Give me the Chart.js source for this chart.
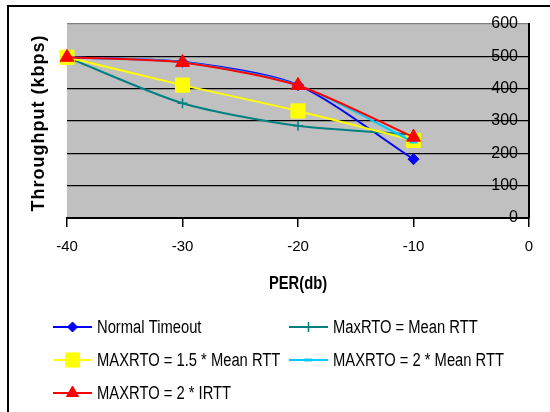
<!DOCTYPE html>
<html>
<head>
<meta charset="utf-8">
<script src="https://cdn.jsdelivr.net/npm/chart.js@4.4.1/dist/chart.umd.min.js"></script>
<style>
  html, body { margin: 0; padding: 0; background: #fff; overflow: hidden; }
  canvas { display: block; }
</style>
</head>
<body>
<canvas id="chart" width="550" height="412"></canvas>
<script>
// values
const perDb = [-40, -30, -20, -10]
const seriesNames = [
  "Normal Timeout",
  "MaxRTO = Mean RTT",
  "MAXRTO = 1.5 * Mean RTT",
  "MAXRTO = 2 * Mean RTT",
  "MAXRTO = 2 * IRTT"
]
const normalTimeout = [497, 483, 411, 182]
const maxRtoMeanRtt = [497, 355, 285, 258]
const maxRto15MeanRtt = [497, 411, 331, 240]
const maxRto2MeanRtt = [497, 482, 411, 235]
const maxRto2Irtt = [497, 481, 410, 250]
const xTitle = "PER(db)"
const yTitle = "Throughput (kbps)"

const SANS = "'Liberation Sans', Arial, sans-serif"
// no narrow face installed, so squeeze the regular one
const NARROW_X = 0.82

const toPoints = (values) => values.map((v, i) => ({ x: perDb[i], y: v }))

function series(label, values, color, style, radius, extra) {
  return Object.assign({
    label: label,
    data: toPoints(values),
    borderColor: color,
    backgroundColor: color,
    pointBackgroundColor: color,
    pointBorderColor: color,
    borderWidth: 2,
    pointStyle: style,
    pointRadius: radius,
    pointBorderWidth: 1,
    tension: 0.25,
    clip: false,
  }, extra)
}

const datasets = [
  series(seriesNames[0], normalTimeout, "#0000ff", "rectRot", 5.5, { order: 4, legendRadius: 5 }),
  series(seriesNames[1], maxRtoMeanRtt, "#008080", "cross", 5, { order: 3, pointBorderWidth: 1.5, legendRadius: 5 }),
  series(seriesNames[2], maxRto15MeanRtt, "#ffff00", "rect", 10, { order: 2, legendRadius: 10 }),
  series(seriesNames[3], maxRto2MeanRtt, "#00ccff", "line", 4, { order: 1, pointBorderWidth: 3, legendRadius: 4 }),
  series(seriesNames[4], maxRto2Irtt, "#ff0000", "triangle", 8, { order: 0, legendRadius: 7 }),
]

function narrowText(ctx, text, x, y, align, font) {
  ctx.save()
  ctx.font = font
  ctx.fillStyle = "#000"
  ctx.textBaseline = "middle"
  ctx.textAlign = align
  ctx.translate(x, y)
  ctx.scale(NARROW_X, 1)
  ctx.fillText(text, 0, 0)
  ctx.restore()
}

// grey plot area + outer frame
const backdrop = {
  id: "backdrop",
  beforeDraw(chart) {
    const { ctx, chartArea: a } = chart
    ctx.save()
    ctx.fillStyle = "#fff"
    ctx.fillRect(0, 0, chart.width, chart.height)
    ctx.fillStyle = "#c0c0c0"
    ctx.fillRect(a.left, a.top, a.right - a.left, a.bottom - a.top)
    ctx.strokeStyle = "#000"
    ctx.lineWidth = 2
    ctx.strokeRect(8, 6, chart.width + 20, chart.height + 20)
    ctx.restore()
  }
}

// axis titles: y title sits on the left although the axis is on the right
const axisTitles = {
  id: "axisTitles",
  afterDraw(chart) {
    const ctx = chart.ctx
    const a = chart.chartArea
    ctx.save()
    ctx.translate(39, 123)
    ctx.rotate(-Math.PI / 2)
    ctx.font = "bold 18px " + SANS
    ctx.letterSpacing = "1px"
    ctx.fillStyle = "#000"
    ctx.textAlign = "center"
    ctx.textBaseline = "middle"
    ctx.fillText(yTitle, 0, 0)
    ctx.restore()
    narrowText(ctx, xTitle, (a.left + a.right) / 2, 284, "center", "bold 18px " + SANS)
  }
}

// two column legend like the excel one
const legendGrid = {
  id: "legendGrid",
  afterDraw(chart) {
    const ctx = chart.ctx
    const cols = [53, 289]
    const rows = [327, 360, 393]
    chart.data.datasets.forEach((ds, i) => {
      const x = cols[i % 2]
      const y = rows[Math.floor(i / 2)]
      ctx.save()
      ctx.strokeStyle = ds.borderColor
      ctx.lineWidth = 2
      ctx.beginPath()
      ctx.moveTo(x, y)
      ctx.lineTo(x + 39, y)
      ctx.stroke()
      ctx.fillStyle = ds.pointBackgroundColor
      ctx.strokeStyle = ds.pointBorderColor
      ctx.lineWidth = ds.pointBorderWidth
      Chart.helpers.drawPoint(ctx, {
        pointStyle: ds.pointStyle,
        radius: ds.legendRadius,
        borderWidth: ds.pointBorderWidth,
        rotation: 0
      }, x + 19.5, y)
      ctx.restore()
      narrowText(ctx, ds.label, x + 44, y + 1, "left", "18px " + SANS)
    })
  }
}

new Chart(document.getElementById("chart"), {
  type: "line",
  data: { datasets: datasets },
  plugins: [backdrop, axisTitles, legendGrid],
  options: {
    responsive: false,
    animation: false,
    devicePixelRatio: 1,
    layout: { padding: { left: 67, top: 24, right: 21, bottom: 118 } },
    plugins: {
      legend: { display: false },
      tooltip: { enabled: false },
    },
    scales: {
      x: {
        type: "linear",
        position: "bottom",
        min: -40,
        max: 0,
        ticks: {
          stepSize: 10,
          padding: 11,
          color: "#000",
          font: { family: SANS, size: 15 },
        },
        grid: {
          drawOnChartArea: false,
          drawTicks: true,
          tickLength: 9,
          color: "#000",
          lineWidth: 1.5,
        },
        border: { display: true, color: "#000", width: 2 },
        afterFit: (scale) => { scale.height = 76 },
      },
      y: {
        position: "right",
        min: 0,
        max: 600,
        ticks: {
          stepSize: 100,
          mirror: true,
          padding: -11,
          color: "#000",
          font: { family: SANS, size: 16 },
        },
        grid: {
          drawTicks: false,
          color: (c) => (c.tick && c.tick.value === 600 ? "#808080" : "#000"),
          lineWidth: 1.2,
        },
        border: { display: true, color: "#000", width: 2 },
        afterFit: (scale) => { scale.width = 0 },
      }
    }
  }
})
</script>
</body>
</html>
